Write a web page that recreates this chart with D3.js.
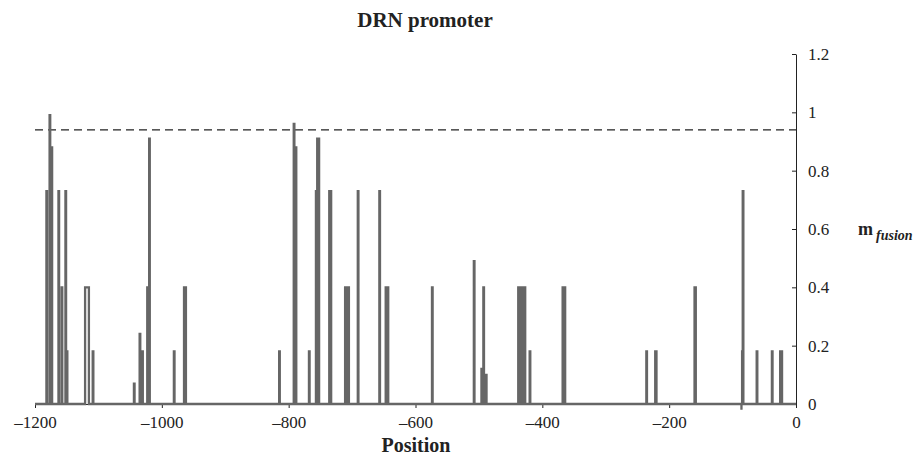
<!DOCTYPE html>
<html>
<head>
<meta charset="utf-8">
<script src="https://cdn.jsdelivr.net/npm/d3@7"></script>
<style>
  body { margin: 0; background: #fff; }
  svg text { font-family: 'Liberation Serif', 'DejaVu Serif', serif; fill: #222; }
</style>
</head>
<body>
<svg id="chart" width="913" height="468"></svg>
<script>
// pulses: start position, end position, m value
const spikeStart = [-1182, -1177, -1174, -1163, -1158, -1152, -1150, -1121, -1109,
  -1044, -1035, -1031, -1023, -1020, -981, -965,
  -815, -792, -789, -768, -757, -755, -736, -711, -708, -691,
  -657, -647, -645, -574, -508, -496, -493, -489,
  -438, -434, -430, -420, -368, -366, -236, -222, -160,
  -86, -85, -84, -62, -38, -25]
const spikeEnd = [-1181, -1176, -1173, -1162, -1157, -1151, -1149, -1115, -1108,
  -1043, -1034, -1030, -1021, -1019, -980, -962,
  -814, -791, -788, -767, -756, -752, -733, -709, -705, -690,
  -656, -646, -643, -573, -507, -495, -492, -488,
  -435, -431, -427, -419, -367, -364, -235, -220, -158,
  -86, -84, -83, -61, -37, -22]
const spikeValue = [0.73, 0.99, 0.88, 0.73, 0.40, 0.73, 0.18, 0.40, 0.18,
  0.07, 0.24, 0.18, 0.40, 0.91, 0.18, 0.40,
  0.18, 0.96, 0.88, 0.18, 0.73, 0.91, 0.73, 0.40, 0.40, 0.73,
  0.73, 0.40, 0.40, 0.40, 0.49, 0.12, 0.40, 0.10,
  0.40, 0.40, 0.40, 0.18, 0.40, 0.40, 0.18, 0.18, 0.40,
  -0.02, 0.18, 0.73, 0.18, 0.18, 0.18]

const threshold = 0.94
const xTicks = [-1200, -1000, -800, -600, -400, -200, 0]
const yTicks = [0, 0.2, 0.4, 0.6, 0.8, 1, 1.2]

const svg = d3.select('svg#chart')
const x = d3.scaleLinear().domain([-1200, 0]).range([35, 796])
const y = d3.scaleLinear().domain([0, 1.2]).range([404, 54])

// dashed threshold line
svg.append('line')
  .attr('x1', x(-1200))
  .attr('x2', x(0))
  .attr('y1', y(threshold))
  .attr('y2', y(threshold))
  .attr('stroke', '#222')
  .attr('stroke-width', 1.2)
  .attr('stroke-dasharray', '8,5')

// axes
const xAxis = svg.append('g')
  .attr('transform', `translate(0,${y(0)})`)
  .call(d3.axisBottom(x)
    .tickValues(xTicks)
    .tickSize(4)
    .tickSizeOuter(0)
    .tickPadding(8)
    .tickFormat(d => d < 0 ? '\u2013' + Math.abs(d) : d))
xAxis.selectAll('text').style('font-size', '17px').attr('fill', '#222')
xAxis.selectAll('line, path').attr('stroke', '#222')

const yAxis = svg.append('g')
  .attr('transform', `translate(${x(0)},0)`)
  .call(d3.axisRight(y)
    .tickValues(yTicks)
    .tickSize(-4)
    .tickSizeOuter(0)
    .tickPadding(12)
    .tickFormat(d3.format('~g')))
yAxis.selectAll('text').style('font-size', '17px').attr('fill', '#222')
yAxis.selectAll('line, path').attr('stroke', '#222')

// build pulse path from the spike arrays
const points = [[-1200, 0]]
spikeStart.forEach((s, i) => {
  points.push([s, 0], [s, spikeValue[i]], [spikeEnd[i], spikeValue[i]], [spikeEnd[i], 0])
})
points.push([0, 0])

svg.append('path')
  .datum(points)
  .attr('fill', 'none')
  .attr('stroke', '#666')
  .attr('stroke-width', 2.3)
  .attr('d', d3.line().x(d => x(d[0])).y(d => y(d[1])))

// titles
svg.append('text')
  .attr('x', 425)
  .attr('y', 27)
  .attr('text-anchor', 'middle')
  .style('font-size', '21px')
  .style('font-weight', 'bold')
  .text('DRN promoter')

svg.append('text')
  .attr('x', 416)
  .attr('y', 452)
  .attr('text-anchor', 'middle')
  .style('font-size', '20px')
  .style('font-weight', 'bold')
  .text('Position')

const yLabel = svg.append('text')
  .attr('x', 858)
  .attr('y', 235)
  .style('font-size', '18px')
  .style('font-weight', 'bold')
yLabel.append('tspan').text('m')
yLabel.append('tspan')
  .attr('dx', 3)
  .attr('dy', 5)
  .style('font-size', '14px')
  .style('font-style', 'italic')
  .text('fusion')
</script>
</body>
</html>
